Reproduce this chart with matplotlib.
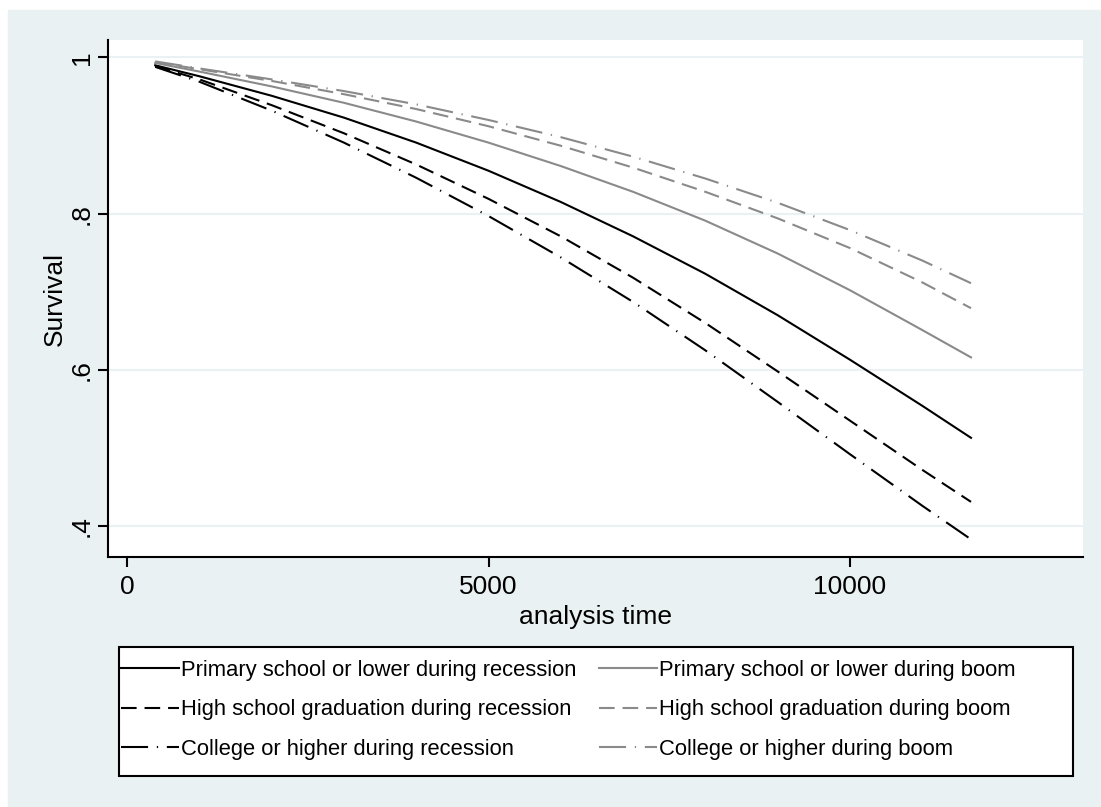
import matplotlib.pyplot as plt
import matplotlib.patches as mpatches

plt.rcParams['font.family'] = ['Liberation Sans', 'DejaVu Sans']

# analysis time points
t = [390, 1000, 2000, 3000, 4000, 5000, 6000, 7000, 8000, 9000, 10000, 11000, 11674]

prim_rec = [0.990, 0.976, 0.951, 0.923, 0.891, 0.855, 0.815, 0.771, 0.723, 0.670, 0.613, 0.554, 0.513]
high_rec = [0.989, 0.972, 0.939, 0.903, 0.863, 0.819, 0.771, 0.718, 0.660, 0.598, 0.535, 0.472, 0.431]
coll_rec = [0.988, 0.969, 0.932, 0.891, 0.846, 0.797, 0.744, 0.687, 0.625, 0.559, 0.492, 0.426, 0.383]
prim_boom = [0.993, 0.982, 0.963, 0.942, 0.918, 0.891, 0.861, 0.828, 0.791, 0.749, 0.702, 0.651, 0.616]
high_boom = [0.994, 0.985, 0.970, 0.953, 0.934, 0.912, 0.887, 0.859, 0.828, 0.794, 0.756, 0.712, 0.679]
coll_boom = [0.995, 0.986, 0.972, 0.957, 0.940, 0.920, 0.898, 0.873, 0.845, 0.814, 0.779, 0.740, 0.711]

labels_rec = ['Primary school or lower during recession',
              'High school graduation during recession',
              'College or higher during recession']
labels_boom = ['Primary school or lower during boom',
               'High school graduation during boom',
               'College or higher during boom']

xticks = [0, 5000, 10000]
yticks = [0.4, 0.6, 0.8, 1.0]
ytick_labels = ['.4', '.6', '.8', '1']

bg = '#eaf1f3'
gray = '#8a8a8a'
dash = (0, (7.5, 3.8))
dashdot = (0, (13, 4.2, 0.6, 4.2))

W, H = 1101, 807
fig = plt.figure(figsize=(W / 100, H / 100), dpi=100)
fig.patches.append(mpatches.Rectangle((8 / W, 0), 1 - 8 / W, 1 - 10 / H,
                                      transform=fig.transFigure, color=bg, zorder=-10))

ax = fig.add_axes([108 / W, 250 / H, 975 / W, 517 / H])
ax.set_facecolor('white')

lw = 1.5
l1, = ax.plot(t, prim_rec, color='black', lw=lw, ls='-')
l2, = ax.plot(t, prim_boom, color=gray, lw=lw, ls='-')
l3, = ax.plot(t, high_rec, color='black', lw=lw, ls=dash)
l4, = ax.plot(t, high_boom, color=gray, lw=lw, ls=dash)
l5, = ax.plot(t, coll_rec, color='black', lw=lw, ls=dashdot)
l6, = ax.plot(t, coll_boom, color=gray, lw=lw, ls=dashdot)

ax.set_xlim(-263, 13223)
ax.set_ylim(0.3604, 1.0224)
ax.set_xticks(xticks)
ax.set_xticklabels([str(v) for v in xticks])
ax.set_yticks(yticks)
ax.set_yticklabels(ytick_labels, rotation=90, va='center')
ax.yaxis.grid(True, color=bg, lw=1.5)
ax.set_axisbelow(True)

for s in ['top', 'right']:
    ax.spines[s].set_visible(False)
for s in ['left', 'bottom']:
    ax.spines[s].set_linewidth(1.5)
ax.tick_params(axis='both', length=7, width=1.5, labelsize=19, pad=6)
ax.tick_params(axis='y', pad=3)

ax.set_xlabel('analysis time', fontsize=19, labelpad=4)
ax.set_ylabel('Survival', fontsize=19, labelpad=2)

# legend frame drawn separately so it spans the full width
fig.patches.append(mpatches.Rectangle((119 / W, 31 / H), 954 / W, 129 / H,
                                      transform=fig.transFigure, facecolor='white',
                                      edgecolor='black', lw=1.5, zorder=1))
leg = fig.legend([l1, l3, l5, l2, l4, l6], labels_rec + labels_boom, ncol=2,
                 loc='center left', bbox_to_anchor=(121 / W, (31 + 66) / H),
                 fontsize=15.8, frameon=False,
                 handlelength=2.65, handletextpad=0.1, labelspacing=0.85,
                 borderaxespad=0, borderpad=0, columnspacing=1.0)
leg.set_zorder(2)

fig.savefig('out.png', dpi=100)
